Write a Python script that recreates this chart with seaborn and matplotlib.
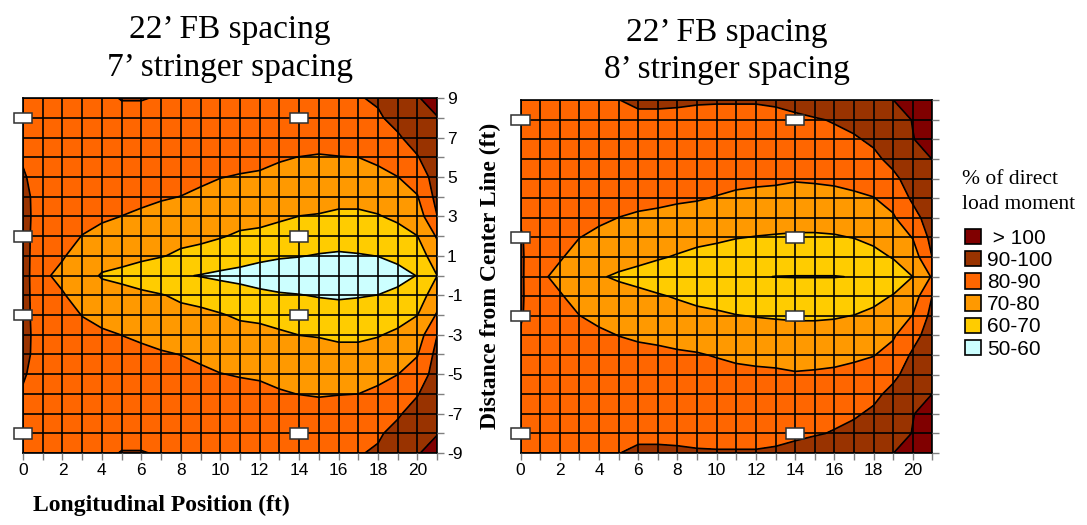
import numpy as np
import matplotlib.pyplot as plt
from matplotlib.patches import Rectangle, Patch
import seaborn as sns

# grid positions (ft); only y = 0..9 is listed, the lower half mirrors it
x_pos = list(range(0, 22))
y_half = list(range(0, 10))

# % of direct load moment, one list per x position (values for y = 0..9)
left_cols = [
    [94, 94, 94, 94, 93, 91, 89, 88, 87, 87],
    [82, 82.5, 83, 84, 85, 85.5, 86, 86, 86, 86],
    [77, 81, 83, 84, 85, 85.5, 86, 86, 86, 86],
    [72.5, 75, 79.8, 82.5, 84, 85, 85.5, 86, 86, 86],
    [69.5, 72.5, 77, 81.5, 84, 85, 85.5, 86, 87, 88.5],
    [67, 74, 77.5, 79.9, 83, 84.5, 85.5, 86, 88, 90.3],
    [65, 72, 76, 78.5, 82, 84, 85, 86, 88, 90.3],
    [63, 70.5, 74.5, 77.5, 80.7, 83, 85, 86, 87.5, 89.5],
    [61, 68.5, 72.5, 76, 79.9, 82.5, 84.5, 85.5, 86.5, 88],
    [59.5, 68.5, 71, 75, 78.5, 81.5, 84, 85.5, 87, 88.5],
    [58, 66, 70.5, 73.5, 77, 80.2, 83, 85, 87, 88.5],
    [57, 64, 69, 72.5, 76, 79.5, 82.5, 85, 87, 88.5],
    [56, 62, 68.5, 72, 75, 79, 82, 84.5, 86.5, 88],
    [55.5, 60.8, 66, 71.5, 74, 78.5, 80.5, 84, 86, 87.5],
    [55, 60.3, 65, 69.9, 73.5, 77, 79.9, 83, 85.5, 87.5],
    [55, 59.5, 64, 69.5, 73, 76.5, 79.5, 82.5, 85, 87.5],
    [55, 59, 63.5, 68.5, 72.5, 76.5, 79.8, 83, 86, 88.5],
    [55.5, 59.5, 63.5, 68.5, 72.5, 77, 80, 84, 87, 89.5],
    [56.5, 60.1, 64.5, 69.5, 73.5, 78, 81.5, 86, 89, 91],
    [58, 61.5, 67, 71.5, 75.5, 79.9, 84.5, 89, 92.5, 95],
    [60.2, 65, 69.9, 75, 79.6, 83.5, 89.5, 93.5, 96.5, 99.5],
    [70, 75.5, 81, 89.9, 93, 95, 96.5, 98, 99.7, 103],
]

right_cols = [
    [91.5, 91.5, 91, 89, 87.5, 87, 86.5, 86.5, 86.5, 86.5],
    [82, 82.5, 83.5, 84.5, 85.5, 86, 86.5, 86.5, 87, 87],
    [77, 81, 83, 84.5, 85.5, 86, 86.5, 87, 87, 87.5],
    [73, 76, 80.1, 83, 85, 86, 86.5, 87, 87.5, 88],
    [71, 73.5, 78, 81.5, 84, 85.5, 86.5, 87, 87.5, 88.5],
    [68.5, 74.5, 77, 79.9, 83, 85, 86.5, 87.5, 88.5, 89.8],
    [67, 72.5, 76, 79, 82, 84, 85.5, 86.5, 87.5, 92],
    [65.5, 70.8, 74.5, 78, 82, 84, 85.5, 86.5, 87.5, 92],
    [64, 69.3, 73.5, 77.5, 81, 83.5, 85, 86.5, 87.5, 91.5],
    [63, 67.5, 72.5, 77, 80.5, 83, 85, 86.5, 87.5, 90.8],
    [62, 66.5, 71.5, 76, 79.6, 82.5, 84.5, 86, 87.5, 90.6],
    [61, 65.5, 70.3, 75, 78.5, 82, 84, 86, 87.5, 90.6],
    [60.5, 64.5, 69.7, 74, 78, 81.5, 84, 86, 87.5, 90.6],
    [59.9, 64, 69.3, 73.5, 77.5, 81.3, 83.5, 85.5, 87.5, 91.3],
    [59.8, 64, 69, 73, 77, 80.6, 83.5, 86, 88.5, 92.5],
    [59.8, 64, 69, 73, 77, 81, 84, 87, 89.5, 93.5],
    [59.8, 64, 69.3, 73.5, 77.5, 81.5, 85, 88.5, 90.4, 94],
    [60.2, 65, 70.2, 74.5, 78.5, 82.5, 86.5, 89, 92.5, 96],
    [62, 67.5, 72, 76, 79.7, 84, 88, 91.5, 94.5, 97.5],
    [65, 70.5, 75, 79, 83, 88, 92.5, 95, 97.5, 99.9],
    [70, 75, 80.3, 86.5, 91.5, 94, 96.5, 99.8, 100.2, 104],
    [81, 90.2, 93, 95, 96.5, 97.5, 100.1, 102, 104, 106],
]

# floor beam / stringer markers
marker_x = [0, 14]
marker_y = [8, 2, -2, -8]

levels = [50, 60, 70, 80, 90, 100, 110]
fill_colors = ['#CCFFFF', '#FFCC00', '#FF9900', '#FF6600', '#993300', '#800000']
legend_labels = [' > 100', '90-100', '80-90', '70-80', '60-70', '50-60']

titles = ['22\u2019 FB spacing\n7\u2019 stringer spacing',
          '22\u2019 FB spacing\n8\u2019 stringer spacing']

sns.set_theme(style='white')
plt.rcParams['font.family'] = ['Liberation Sans', 'DejaVu Sans']
plt.rcParams['text.color'] = 'black'
plt.rcParams['xtick.labelcolor'] = 'black'
plt.rcParams['ytick.labelcolor'] = 'black'
serif = ['Liberation Serif', 'DejaVu Serif']

y_full = np.arange(-y_half[-1], y_half[-1] + 1)


def full_grid(cols):
    half = np.array(cols, dtype=float).T
    return np.vstack([half[:0:-1], half])


def draw_panel(ax, cols, title, show_ylabels):
    Z = full_grid(cols)
    X, Y = np.meshgrid(x_pos, y_full)
    ax.contourf(X, Y, Z, levels=levels, colors=fill_colors, zorder=1)
    ax.contour(X, Y, Z, levels=levels[1:-1], colors='black', linewidths=1.2, zorder=2)
    ax.set_xlim(0, 21)
    ax.set_ylim(-9, 9)
    ax.set_xticks(x_pos)
    ax.set_xticklabels([str(v) if v % 2 == 0 else '' for v in x_pos])
    ax.set_yticks(y_full)
    ax.set_yticklabels([str(v) if v % 2 != 0 else '' for v in y_full])
    ax.yaxis.tick_right()
    ax.tick_params(axis='y', labelright=show_ylabels)
    ax.tick_params(direction='out', length=5, width=1, color='#808080',
                   labelcolor='black', labelsize=12.5, pad=2, bottom=True, right=True)
    ax.grid(True, color='black', linewidth=1.2)
    ax.set_axisbelow(False)
    for s in ax.spines.values():
        s.set_color('black')
        s.set_linewidth(1.2)
    for mx in marker_x:
        for my in marker_y:
            ax.add_patch(Rectangle((mx - 0.47, my - 0.27), 0.94, 0.54,
                                   facecolor='white', edgecolor='#303030',
                                   linewidth=1.1, zorder=5, clip_on=False))
    ax.set_title(title, fontsize=24, family=serif, color='black',
                 pad=16, linespacing=1.3)


fig = plt.figure(figsize=(10.87, 5.25), dpi=100)
ax1 = fig.add_axes([0.0212, 0.137, 0.381, 0.676])
ax2 = fig.add_axes([0.479, 0.137, 0.3787, 0.672])

draw_panel(ax1, left_cols, titles[0], True)
draw_panel(ax2, right_cols, titles[1], False)

fig.text(490 / 1087, 0.474, 'Distance from Center Line (ft)', rotation=90,
         ha='center', va='center', fontsize=17, fontweight='bold', family=serif)
fig.text(33 / 1087, 0.038, 'Longitudinal Position (ft)', ha='left', va='center',
         fontsize=17, fontweight='bold', family=serif)

fig.text(962 / 1087, 1 - 170 / 525, '% of direct\nload moment', ha='left', va='top',
         fontsize=15.5, family=serif, linespacing=1.4)
handles = [Patch(facecolor=c, edgecolor='black', linewidth=1.2) for c in fill_colors[::-1]]
fig.legend(handles, legend_labels, loc='upper left',
           bbox_to_anchor=(965 / 1087, 1 - 229 / 525), frameon=False,
           prop={'family': 'Liberation Sans', 'size': 15},
           handlelength=0.75, handleheight=0.75, handletextpad=0.3,
           labelspacing=0.15, borderaxespad=0, borderpad=0)

fig.savefig('out.png', dpi=100)
